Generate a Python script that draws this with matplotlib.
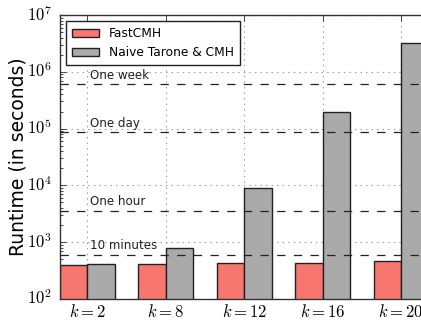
import numpy as np
import matplotlib
matplotlib.use("Agg")
import matplotlib.pyplot as plt
from matplotlib.ticker import FuncFormatter

plt.style.use("classic")
plt.rcParams["mathtext.fontset"] = "cm"
plt.rcParams["font.family"] = "DejaVu Sans"

k_values = [2, 8, 12, 16, 20]
fastcmh = [397, 408, 425, 430, 467]
naive = [405, 781, 9000, 194000, 3200000]

thresholds = [600, 3600, 86400, 604800]
threshold_labels = ["10 minutes", "One hour", "One day", "One week"]

fig = plt.figure(figsize=(4.21, 3.2), dpi=100)
ax = fig.add_axes([60 / 421, 21 / 320, 368.5 / 421, 284 / 320])

x = np.arange(len(k_values))
w = 0.35
ax.bar(x - w, fastcmh, width=w, align="edge", color="#F87670",
       edgecolor="#222222", linewidth=1.0, label="FastCMH")
ax.bar(x, naive, width=w, align="edge", color="#AAAAAA",
       edgecolor="#222222", linewidth=1.0, label="Naive Tarone & CMH")

for t, lab in zip(thresholds, threshold_labels):
    ax.axhline(t, color="#222222", linestyle="--", linewidth=0.9, zorder=3)
    ax.text(0.03, t * 1.1, lab, fontsize=8.6, color="#222222",
            ha="left", va="bottom", zorder=4)

ax.set_yscale("log")
ax.set_ylim(1e2, 1e7)
ax.yaxis.set_major_formatter(FuncFormatter(lambda v, p: r"$10^{%d}$" % round(np.log10(v))))
ax.set_xlim(-w, len(k_values) - 1 + w)
ax.set_xticks(x)
ax.set_xticklabels([r"$k=%d$" % k for k in k_values], fontsize=12)
ax.tick_params(axis="x", pad=3)
ax.tick_params(axis="y", labelsize=12, pad=6)
ax.set_ylabel("Runtime (in seconds)", fontsize=13.5)
ax.yaxis.set_label_coords(-0.088, 0.5)
ax.grid(True, linestyle=":", color="#999999", linewidth=0.8)
ax.set_axisbelow(True)
for s in ax.spines.values():
    s.set_color("#333333")

leg = ax.legend(loc="upper left", fontsize=8.8, frameon=True,
                handlelength=2.2, handleheight=0.7, handletextpad=0.8,
                borderaxespad=0.5, labelspacing=0.5, borderpad=0.5)
leg.get_frame().set_edgecolor("#222222")

fig.savefig("out.png", dpi=100)
